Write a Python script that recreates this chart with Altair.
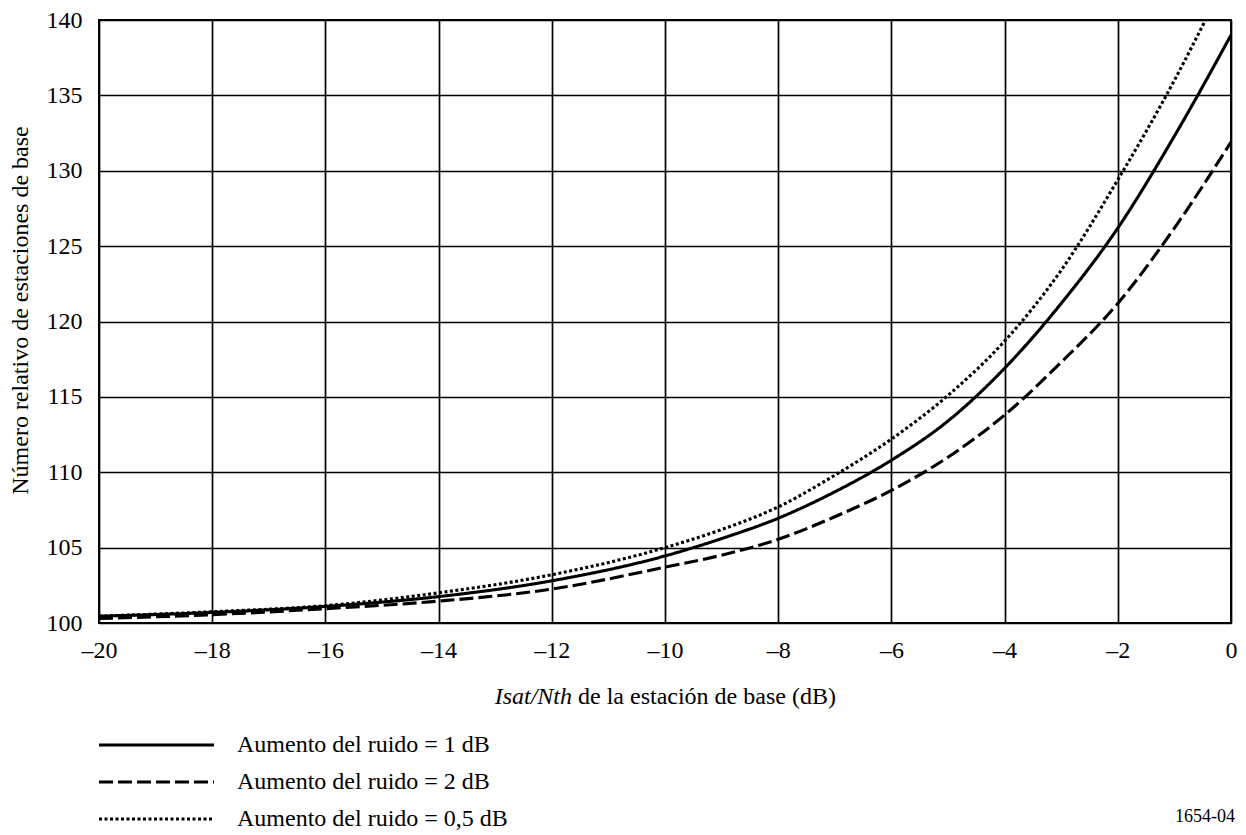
import altair as alt
import pandas as pd

# ---- data ----
x_common = [-20, -18, -16, -14, -12, -10, -9, -8, -7, -6, -5, -4, -3, -2, -1, 0]
y_1db = [100.45, 100.7, 101.1, 101.75, 102.8, 104.45, 105.6, 106.95, 108.7, 110.8,
         113.4, 116.9, 121.2, 126.2, 132.3, 139.0]
y_2db = [100.3, 100.55, 100.95, 101.45, 102.25, 103.7, 104.5, 105.55, 107.05, 108.8,
         111.0, 113.8, 117.3, 121.2, 126.2, 131.9]
x_05db = [-20, -18, -16, -14, -12, -10, -9, -8, -7, -6, -5, -4, -3, -2, -1, -0.45]
y_05db = [100.45, 100.75, 101.15, 102.0, 103.2, 105.0, 106.2, 107.7, 109.8, 112.2,
          115.1, 118.7, 123.4, 129.4, 136.0, 140.0]

series_labels = ["Aumento del ruido = 1 dB",
                 "Aumento del ruido = 2 dB",
                 "Aumento del ruido = 0,5 dB"]
dash_patterns = [[1, 0], [14, 5], [3, 2.5]]
x_ticks = [-20, -18, -16, -14, -12, -10, -8, -6, -4, -2, 0]
y_ticks = [100, 105, 110, 115, 120, 125, 130, 135, 140]

y_title = "Número relativo de estaciones de base"
x_title_italic = "Isat/Nth"
x_title_rest = "de la estación de base (dB)"
fig_code = "1654-04"

rows = []
for xs, ys, lab in [(x_common, y_1db, series_labels[0]),
                    (x_common, y_2db, series_labels[1]),
                    (x_05db, y_05db, series_labels[2])]:
    for xv, yv in zip(xs, ys):
        rows.append({"x": xv, "y": yv, "serie": lab})
df = pd.DataFrame(rows)

FONT = "Liberation Serif"
FS = 24

lines = alt.Chart(df).mark_line(strokeWidth=3.1, color="black", clip=True,
                                interpolate="monotone").encode(
    x=alt.X("x:Q",
            scale=alt.Scale(domain=[-20, 0], nice=False, zero=False),
            axis=alt.Axis(values=x_ticks, title=None, grid=True, ticks=False, domain=False,
                          labelFlush=False, labelOverlap=False,
                          labelPadding=15, labelFontSize=FS, labelFont=FONT, labelColor="black",
                          labelExpr="datum.value < 0 ? '–' + abs(datum.value) : '' + datum.value",
                          gridColor="black", gridWidth=1.7, gridOpacity=1)),
    y=alt.Y("y:Q",
            scale=alt.Scale(domain=[100, 140], nice=False, zero=False),
            axis=alt.Axis(values=y_ticks, title=y_title, grid=True, ticks=False, domain=False,
                          labelFlush=False, labelOverlap=False,
                          labelPadding=17, labelFontSize=FS, labelFont=FONT, labelColor="black",
                          gridColor="black", gridWidth=1.7, gridOpacity=1,
                          titleFont=FONT, titleFontSize=FS, titleFontWeight="normal",
                          titleColor="black", titleX=-79, titleY=290, titleBaseline="middle",
                          titleAlign="center", titleAngle=270)),
    strokeDash=alt.StrokeDash("serie:N",
                              scale=alt.Scale(domain=series_labels, range=dash_patterns),
                              legend=alt.Legend(title=None, orient="none", legendX=44.5, legendY=712,
                                                symbolType="M-5,0H5", symbolSize=529,
                                                symbolStrokeWidth=3, symbolStrokeColor="black",
                                                symbolFillColor="transparent",
                                                labelFont=FONT, labelFontSize=FS, labelOffset=67.5,
                                                labelLimit=500, labelColor="black", rowPadding=12)),
    detail="serie:N",
)

t_italic = alt.Chart(pd.DataFrame({"t": [x_title_italic]})).mark_text(
    font=FONT, fontSize=FS, fontStyle="italic", align="right", baseline="middle", color="black"
).encode(text="t:N", x=alt.value(473), y=alt.value(677))

t_rest = alt.Chart(pd.DataFrame({"t": [x_title_rest]})).mark_text(
    font=FONT, fontSize=FS, align="left", baseline="middle", color="black"
).encode(text="t:N", x=alt.value(479), y=alt.value(677))

t_code = alt.Chart(pd.DataFrame({"t": [fig_code]})).mark_text(
    font=FONT, fontSize=18, align="right", baseline="middle", color="black"
).encode(text="t:N", x=alt.value(1136), y=alt.value(797))

chart = alt.layer(lines, t_italic, t_rest, t_code).properties(
    width=1132, height=603,
    autosize=alt.AutoSizeParams(type="none"),
    padding={"left": 91, "top": 12, "right": 7, "bottom": 207},
).configure_view(stroke="black", strokeWidth=2)

chart.save("out.html", embed_options={"renderer": "svg", "actions": False})
